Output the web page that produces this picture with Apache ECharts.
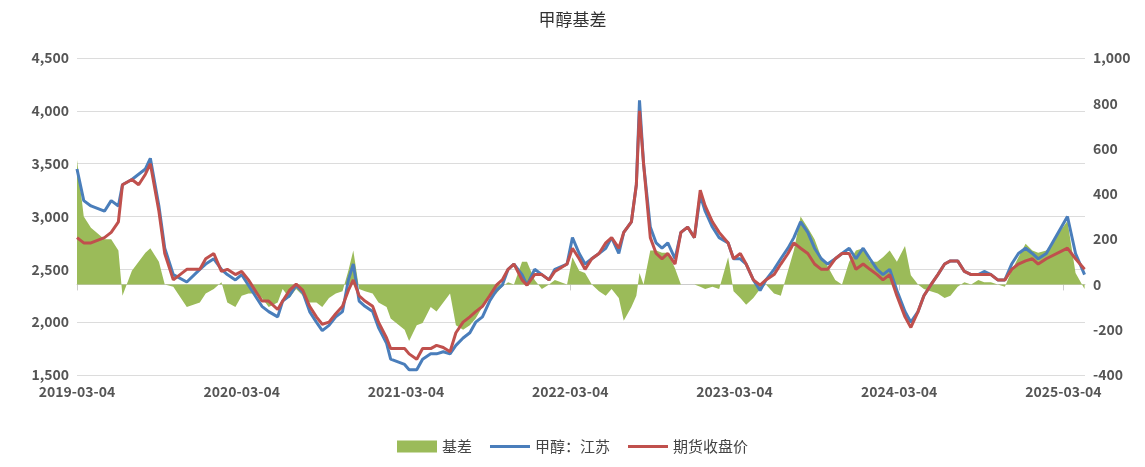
<!DOCTYPE html>
<html><head><meta charset="utf-8">
<script src="https://cdn.jsdelivr.net/npm/echarts@6/dist/echarts.min.js"></script>
<style>html,body{margin:0;padding:0;background:#fff}#c{width:1145px;height:467px}</style>
</head><body><div id="c"></div>
<script>
const dates = ["2019-03-04","2019-03-19","2019-04-04","2019-05-04","2019-05-19","2019-06-04","2019-06-13","2019-07-04","2019-07-19","2019-08-03","2019-08-14","2019-09-02","2019-09-15","2019-10-04","2019-11-03","2019-12-02","2019-12-15","2020-01-02","2020-01-19","2020-02-01","2020-02-19",
"2020-03-04","2020-03-19","2020-04-03","2020-04-18","2020-05-03","2020-05-23","2020-06-03","2020-06-18","2020-07-03","2020-07-18","2020-08-02","2020-08-17","2020-08-30","2020-09-14","2020-09-29","2020-10-14","2020-10-27","2020-11-07","2020-11-20","2020-12-03","2020-12-20","2021-01-02","2021-01-20","2021-01-29",
"2021-03-01","2021-03-11","2021-03-28","2021-04-10","2021-04-28","2021-05-11","2021-05-26","2021-06-10","2021-06-23","2021-07-09","2021-07-24","2021-08-06","2021-08-21","2021-09-06","2021-09-21","2021-10-04","2021-10-17","2021-10-30","2021-11-17","2021-11-28","2021-12-15","2021-12-31","2022-01-16","2022-01-29",
"2022-02-25","2022-03-09","2022-03-24","2022-04-06","2022-04-21","2022-05-07","2022-05-22","2022-06-04","2022-06-20","2022-07-01","2022-07-18","2022-07-29","2022-08-05","2022-08-14","2022-08-29","2022-09-11","2022-09-24","2022-10-07","2022-10-23","2022-11-05","2022-11-20","2022-12-05","2022-12-18","2022-12-29","2023-01-14","2023-01-29",
"2023-02-18","2023-03-02","2023-03-17","2023-03-30","2023-04-15","2023-04-30","2023-05-13","2023-05-31","2023-06-15","2023-07-01","2023-07-14","2023-07-29","2023-08-14","2023-08-29","2023-09-13","2023-09-27","2023-10-14","2023-10-29","2023-11-14","2023-11-29","2023-12-15","2023-12-30","2024-01-15","2024-01-28","2024-02-12","2024-02-28",
"2024-03-17","2024-03-30","2024-04-15","2024-04-28","2024-05-13","2024-05-29","2024-06-13","2024-06-26","2024-07-12","2024-07-27","2024-08-11","2024-08-27","2024-09-09","2024-09-24","2024-10-09","2024-10-25","2024-11-09","2024-11-24","2024-12-10","2024-12-25","2025-01-07","2025-01-25","2025-03-13","2025-03-31","2025-04-20"];
const spotJiangsu = [3450,3150,3100,3050,3150,3100,3300,3350,3400,3450,3550,3100,2700,2450,2380,2500,2550,2600,2500,2450,2400,
2450,2350,2250,2150,2100,2050,2200,2250,2350,2280,2100,2000,1920,1970,2050,2100,2400,2550,2200,2150,2100,1950,1800,1650,
1600,1550,1550,1650,1700,1700,1720,1700,1780,1850,1900,2000,2050,2200,2300,2350,2500,2550,2450,2350,2500,2450,2400,2500,
2550,2800,2650,2550,2600,2650,2700,2800,2650,2850,2950,3300,4100,3500,2900,2750,2700,2750,2600,2850,2900,2800,3200,3050,2900,2800,
2750,2600,2600,2550,2400,2300,2400,2500,2600,2700,2800,2950,2850,2700,2600,2550,2600,2650,2700,2600,2700,2600,2500,2450,2500,2300,
2100,2000,2100,2250,2350,2450,2550,2580,2580,2480,2450,2450,2480,2450,2400,2400,2550,2650,2700,2650,2600,2650,3000,2650,2450];
const futures = [2800,2750,2750,2800,2850,2950,3300,3350,3300,3400,3500,3050,2650,2400,2500,2500,2600,2650,2480,2500,2450,
2480,2400,2300,2200,2200,2120,2200,2300,2360,2300,2150,2050,1980,2000,2080,2150,2300,2400,2250,2200,2150,2000,1850,1750,
1750,1700,1650,1750,1750,1780,1760,1720,1900,2000,2050,2100,2150,2250,2350,2400,2500,2550,2400,2350,2450,2450,2400,2480,
2550,2700,2600,2500,2600,2650,2750,2800,2700,2850,2950,3300,4000,3500,2800,2650,2600,2650,2550,2850,2900,2800,3250,3100,2950,2850,
2750,2600,2650,2550,2400,2350,2400,2450,2550,2650,2750,2700,2650,2550,2500,2500,2600,2650,2650,2500,2550,2500,2450,2400,2450,2250,
2050,1950,2100,2250,2350,2450,2550,2580,2580,2480,2450,2450,2450,2450,2400,2400,2500,2550,2580,2600,2550,2600,2700,2600,2500];
const basis = [550,300,250,200,200,150,-50,60,100,140,160,100,0,-10,-100,-80,-40,-20,10,-80,-100,
-50,-40,-40,-60,-100,-80,-20,-60,-20,-50,-80,-80,-100,-60,-40,-30,60,150,-20,-30,-40,-80,-100,-150,
-200,-250,-180,-170,-100,-120,-80,-40,-180,-200,-180,-150,-100,-60,-40,-10,10,0,100,100,20,-20,0,20,
0,120,60,50,0,-30,-50,-20,-60,-160,-100,-50,50,0,150,150,140,140,70,0,0,0,-10,-20,-10,-20,
120,-30,-60,-90,-60,-20,0,-40,-50,60,150,300,250,200,120,80,20,0,100,150,160,100,100,120,150,100,
170,40,0,-20,-30,-40,-60,-50,-10,10,0,20,10,10,0,-10,60,120,180,150,140,150,280,50,-20];
const xTicks = ["2019-03-04","2020-03-04","2021-03-04","2022-03-04","2023-03-04","2024-03-04","2025-03-04"];
const leftTicks = [1500,2000,2500,3000,3500,4000,4500];

const ts = s => new Date(s + "T00:00:00Z").getTime();
const pair = arr => dates.map((d,i)=>[ts(d),arr[i]]);
const pad = n => (n<10?'0':'')+n;
const fmt = v => {const d=new Date(v);return d.getUTCFullYear()+'-'+pad(d.getUTCMonth()+1)+'-'+pad(d.getUTCDate());};
const font = '"Noto Sans CJK SC","Noto Sans",sans-serif';
const chart = echarts.init(document.getElementById('c'));
chart.setOption({
  animation:false,
  textStyle:{fontFamily:font},
  title:{text:'甲醇基差',left:'center',top:6,textStyle:{fontSize:17,fontWeight:'normal',color:'#333',fontFamily:font}},
  grid:{left:77,right:60,top:58,bottom:92},
  legend:{bottom:8,left:'center',itemGap:18,textStyle:{fontSize:15,color:'#444',fontFamily:font},
    data:[{name:'基差',icon:'rect'},{name:'甲醇：江苏',icon:'path://M0,4h40v3h-40z'},{name:'期货收盘价',icon:'path://M0,4h40v3h-40z'}],
    itemWidth:40,itemHeight:12},
  xAxis:{type:'value',min:ts('2019-03-04'),max:ts('2025-04-21'),
    axisLine:{lineStyle:{color:'#ccc'}},
    axisTick:{show:true,customValues:xTicks.map(ts),lineStyle:{color:'#ccc'},length:6},
    axisLabel:{customValues:xTicks.map(ts),formatter:v=>fmt(v),fontSize:14,fontWeight:'bold',color:'#555',margin:10},
    splitLine:{show:false}},
  yAxis:[{type:'value',min:leftTicks[0],max:leftTicks[leftTicks.length-1],interval:500,
      axisLabel:{formatter:v=>v.toLocaleString('en-US'),fontSize:14,fontWeight:'bold',color:'#555'},
      axisLine:{show:false},axisTick:{show:false},splitLine:{lineStyle:{color:'#dcdcdc'}}},
    {type:'value',min:-400,max:1000,interval:200,
      axisLabel:{fontSize:14,fontWeight:'bold',color:'#555'},
      axisLine:{show:false},axisTick:{show:false},splitLine:{show:false}}],
  series:[
    {name:'基差',type:'line',yAxisIndex:1,data:pair(basis),showSymbol:false,
      lineStyle:{width:0},itemStyle:{color:'#9bbb59'},areaStyle:{color:'#9bbb59',opacity:1,origin:0}},
    {name:'甲醇：江苏',type:'line',data:pair(spotJiangsu),showSymbol:false,lineStyle:{width:3,color:'#4a7ebb'},itemStyle:{color:'#4a7ebb'}},
    {name:'期货收盘价',type:'line',data:pair(futures),showSymbol:false,lineStyle:{width:3,color:'#c0504d'},itemStyle:{color:'#c0504d'}}
  ]
});
</script></body></html>
